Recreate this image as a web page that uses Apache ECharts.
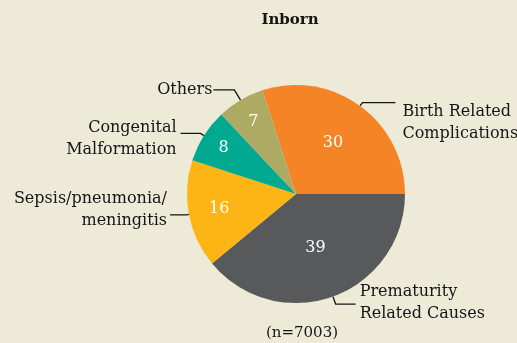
<!DOCTYPE html>
<html>
<head>
<meta charset="utf-8">
<script src="https://cdn.jsdelivr.net/npm/echarts@6/dist/echarts.min.js"></script>
<style>
  html, body { margin: 0; padding: 0; background: #EDEBD8; }
  #chart { width: 517px; height: 343px; }
</style>
</head>
<body>
<div id="chart"></div>
<script>
// Causes of death among inborn neonates (percent)
const causes = ['Birth Related\nComplications', 'Prematurity\nRelated Causes', 'Sepsis/pneumonia/\nmeningitis', 'Congenital\nMalformation', 'Others'];
const shares = [30, 39, 16, 8, 7];
const colors = ['#F58426', '#58595B', '#FDB515', '#00A98F', '#ADAA64'];
const titleText = 'Inborn';
const sampleNote = '(n=7003)';

// Leader line segment lengths, gaps and vertical nudges for the outside labels
const leadLen1 = [4, 8, 2, 4, 12];
const leadLen2 = [33, 20, 17, 20, 21];
const leadGap = [7, 4, 3, 4, 1];
const outerDy = [20, -1, -5, 5, 0];
// Radial placement (fraction of radius) for the value labels inside slices
const innerFrac = [0.55, 0.5, 0.69, 0.76, 0.74];

const R = 109;
const center = [296, 194];
const startAngle = 108;

// Mid angles of each slice, used to push value labels outward
const total = shares.reduce((a, b) => a + b, 0);
const midAngles = [];
let acc = startAngle;
shares.forEach(v => {
  const span = v / total * 360;
  midAngles.push((acc - span / 2) * Math.PI / 180);
  acc -= span;
});

const font = '"DejaVu Serif", serif';
const ink = '#151515';

const chart = echarts.init(document.getElementById('chart'));
chart.setOption({
  backgroundColor: '#EDEBD8',
  animation: false,
  title: [
    { text: titleText, left: 285, top: 8, textAlign: 'center',
      textStyle: { fontFamily: font, fontSize: 15, fontWeight: 'bold', color: ink } },
    { text: sampleNote, left: 297, top: 321, textAlign: 'center',
      textStyle: { fontFamily: font, fontSize: 15, fontWeight: 'normal', color: ink } }
  ],
  series: [
    {
      type: 'pie',
      center: center,
      radius: R,
      startAngle: startAngle,
      clockwise: true,
      silent: true,
      data: shares.map((v, i) => ({ name: causes[i], value: v, itemStyle: { color: colors[i] } })),
      label: {
        position: 'inside',
        formatter: '{c}',
        color: '#ffffff',
        fontFamily: font,
        fontSize: 16
      },
      labelLine: { show: false },
      labelLayout: function (p) {
        const i = p.dataIndex;
        const shift = (innerFrac[i] - 0.5) * R;
        return { dx: shift * Math.cos(midAngles[i]), dy: -shift * Math.sin(midAngles[i]) };
      }
    },
    {
      type: 'pie',
      center: center,
      radius: R,
      startAngle: startAngle,
      clockwise: true,
      silent: true,
      itemStyle: { color: 'rgba(0,0,0,0)' },
      data: shares.map((v, i) => ({
        name: causes[i], value: v,
        labelLine: { length: leadLen1[i], length2: leadLen2[i] },
        label: { distanceToLabelLine: leadGap[i] }
      })),
      label: {
        position: 'outside',
        formatter: '{b}',
        color: ink,
        fontFamily: font,
        fontSize: 16,
        lineHeight: 22,
        overflow: 'none',
        edgeDistance: 0
      },
      labelLine: { show: true, lineStyle: { color: ink, width: 1.3 } },
      labelLayout: function (p) {
        return { dy: outerDy[p.dataIndex] };
      }
    }
  ]
});
</script>
</body>
</html>
